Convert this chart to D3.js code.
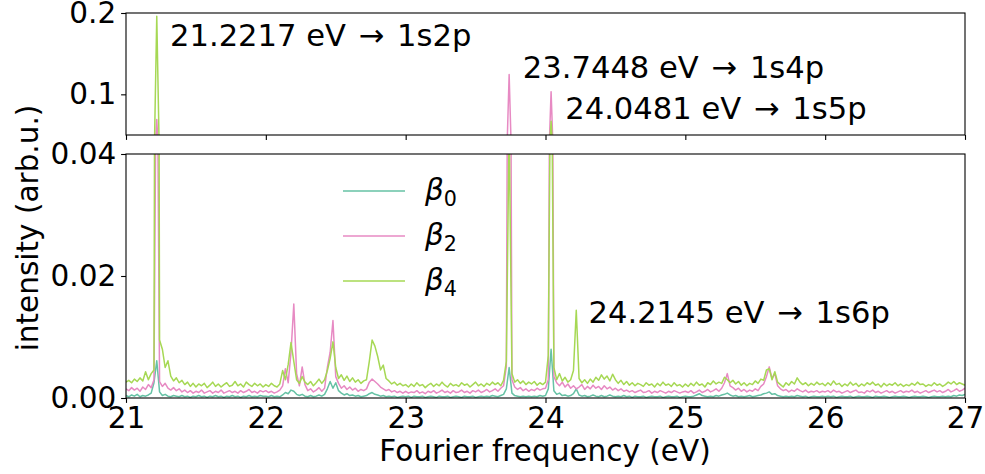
<!DOCTYPE html>
<html>
<head>
<meta charset="utf-8">
<script src="https://cdn.jsdelivr.net/npm/d3@7"></script>
<style>
  html, body { margin: 0; padding: 0; background: #fff; }
  svg { display: block; }
  text { font-family: "DejaVu Sans", sans-serif; fill: #000; }
</style>
</head>
<body>
<svg id="chart" width="985" height="474"></svg>
<script>
// ---- data (intensity in units of 1e-3 arb.u., sampled every 0.02 eV from 21.00 to 27.00 eV) ----
const freqStart = 21.0;
const freqStep = 0.02;

const beta0 = [
  0.4,0.2,0.5,0.3,0.6,0.2,0.4,0.3,0.5,0.8,
  2.5,6.1,1.0,0.4,0.6,0.3,0.2,0.4,0.3,0.2,
  0.4,0.2,0.3,0.1,0.3,0.2,0.4,0.2,0.3,0.1,
  0.3,0.2,0.4,0.2,0.3,0.1,0.3,0.2,0.4,0.2,
  0.3,0.1,0.3,0.2,0.4,0.2,0.3,0.2,0.4,0.3,
  0.3,0.2,0.4,0.2,0.3,0.2,0.5,0.9,0.7,1.3,
  1.1,0.6,0.4,0.6,0.3,0.2,0.4,0.2,0.3,0.5,
  0.3,0.6,1.5,2.7,1.6,2.5,1.2,0.8,0.5,0.7,
  0.4,0.5,0.3,0.4,0.2,0.3,0.4,0.7,0.9,0.6,
  0.5,0.3,0.4,0.2,0.3,0.2,0.3,0.1,0.2,0.3,
  0.2,0.3,0.1,0.3,0.2,0.2,0.3,0.1,0.2,0.3,
  0.2,0.1,0.3,0.2,0.2,0.3,0.1,0.2,0.3,0.2,
  0.1,0.3,0.2,0.2,0.3,0.1,0.2,0.3,0.2,0.3,
  0.2,0.4,0.3,0.2,0.4,0.6,1.5,5.0,0.8,0.4,
  0.3,0.2,0.3,0.2,0.3,0.2,0.3,0.2,0.4,0.3,
  0.4,1.5,8.0,1.2,0.6,0.8,0.4,0.5,0.3,0.4,
  0.7,1.5,0.5,0.3,0.4,0.2,0.3,0.5,0.3,0.2,
  0.4,0.2,0.3,0.5,0.3,0.2,0.3,0.2,0.4,0.2,
  0.3,0.1,0.3,0.2,0.2,0.3,0.1,0.2,0.3,0.2,
  0.2,0.3,0.1,0.2,0.3,0.2,0.2,0.3,0.1,0.2,
  0.3,0.2,0.2,0.3,0.5,0.7,0.4,0.3,0.2,0.3,
  0.2,0.4,0.3,0.5,0.6,0.8,0.5,0.3,0.4,0.2,
  0.3,0.2,0.3,0.4,0.2,0.3,0.4,0.5,0.7,0.8,
  1.0,0.6,0.7,0.4,0.3,0.2,0.3,0.2,0.3,0.2,
  0.4,0.3,0.2,0.3,0.1,0.2,0.3,0.2,0.2,0.3,
  0.2,0.3,0.2,0.3,0.1,0.2,0.3,0.2,0.2,0.3,
  0.1,0.2,0.3,0.2,0.2,0.3,0.2,0.1,0.3,0.2,
  0.2,0.3,0.2,0.1,0.2,0.3,0.2,0.2,0.3,0.2,
  0.1,0.2,0.3,0.2,0.2,0.3,0.2,0.1,0.2,0.3,
  0.2,0.2,0.3,0.2,0.3,0.2,0.4,0.3,0.5,0.4,
  0.6
];

const beta2 = [
  1.5,1.2,1.7,1.3,1.6,1.1,1.8,1.4,2.2,1.7,
  3.0,69,2.7,1.9,2.4,1.6,1.3,1.7,1.2,1.5,
  1.0,1.3,0.9,1.2,0.8,1.1,0.9,1.3,0.8,1.0,
  1.2,0.8,1.1,0.9,1.3,0.8,1.0,1.2,0.9,1.1,
  0.8,1.2,0.9,1.1,1.4,0.9,1.1,0.8,1.2,1.0,
  1.2,0.9,1.1,0.8,1.0,1.3,2.0,4.8,2.5,7.5,
  15.4,4.0,2.0,5.1,2.2,1.2,1.5,1.0,1.3,1.7,
  1.1,1.6,5.0,7.5,12.7,3.5,2.4,1.6,2.0,1.4,
  1.8,1.3,1.6,1.1,1.4,1.2,1.5,2.6,3.1,2.7,
  2.3,1.8,1.5,1.2,1.4,1.0,1.2,0.9,1.1,0.8,
  1.1,0.8,1.0,0.9,1.2,0.8,1.0,0.7,1.1,0.9,
  1.2,0.8,1.0,1.3,0.9,1.1,0.8,1.2,0.9,1.0,
  1.3,0.9,1.1,0.8,1.2,1.0,1.3,0.9,1.1,1.4,
  1.0,1.2,1.5,1.1,1.6,2.0,5.2,124.5,3.0,1.8,
  1.4,1.7,1.2,1.5,1.1,1.4,1.2,1.6,1.3,1.5,
  1.6,3.0,103.3,3.5,2.5,2.0,2.6,1.8,2.3,1.6,
  2.0,1.5,1.8,2.2,1.4,1.9,1.5,2.1,1.6,1.9,
  1.4,2.0,1.5,1.8,1.3,1.6,1.2,1.5,1.1,1.3,
  1.0,1.2,0.9,1.1,1.3,0.9,1.0,1.2,0.8,1.1,
  0.9,1.2,1.0,0.8,1.1,0.9,1.2,1.0,0.8,1.0,
  1.1,0.9,1.2,0.8,1.0,1.3,0.9,1.1,1.4,1.0,
  1.2,1.5,1.1,1.6,2.5,4.0,2.0,1.7,1.3,1.6,
  1.1,1.4,1.0,1.3,1.1,1.5,1.2,1.9,2.3,3.5,
  5.1,3.2,4.0,2.0,1.5,1.2,1.4,1.0,1.3,1.1,
  1.5,1.2,1.0,1.3,0.9,1.1,1.0,1.2,0.9,1.1,
  1.0,1.2,0.9,1.3,1.0,1.1,0.8,1.0,1.2,0.9,
  1.1,1.3,0.9,1.0,0.8,1.2,1.0,1.3,0.9,1.1,
  0.8,1.0,1.2,0.9,1.1,0.8,1.0,1.2,0.9,1.1,
  1.0,1.3,0.9,1.1,0.8,1.0,1.2,0.9,1.1,1.3,
  1.0,1.2,0.9,1.1,1.4,1.0,1.2,1.5,1.1,1.3,
  1.6
];

const beta4 = [
  2.6,2.9,2.5,3.1,2.7,3.3,2.8,4.3,3.0,4.0,
  4.6,196,9.5,8.0,5.0,6.1,3.6,2.8,3.3,2.5,
  2.9,2.2,2.6,1.9,2.4,1.8,2.3,2.0,2.4,1.7,
  2.1,2.6,1.9,2.3,1.8,2.2,2.5,1.9,2.1,2.7,
  2.0,2.3,1.8,2.6,2.2,1.9,2.4,2.0,2.3,1.8,
  2.2,1.9,2.4,2.0,1.8,2.3,4.5,3.0,5.5,9.1,
  6.0,3.0,2.4,3.5,2.6,2.2,2.7,2.0,2.5,3.1,
  2.4,3.0,4.5,6.5,9.2,5.0,3.2,3.8,2.9,3.6,
  2.7,3.3,2.6,3.0,2.4,2.8,3.0,6.0,9.5,8.5,
  6.8,4.6,5.4,3.2,2.8,2.3,2.6,2.1,2.4,2.0,
  2.2,1.8,2.3,1.9,2.5,2.0,2.2,1.7,2.1,2.4,
  1.9,2.3,2.0,2.6,2.1,1.8,2.4,2.0,2.2,1.9,
  2.5,2.1,2.3,1.8,2.2,2.6,2.0,2.3,1.9,2.4,
  2.1,2.6,2.2,2.5,2.0,2.9,6.0,45,4.0,2.6,
  3.0,2.4,2.8,2.2,2.6,2.3,2.7,2.1,2.5,2.2,
  2.6,7.0,67,5.0,3.0,4.0,2.8,3.4,2.6,3.0,
  4.5,14.4,3.2,2.5,3.0,2.4,3.1,2.6,3.4,2.9,
  3.8,3.1,3.6,2.8,3.9,3.0,2.4,2.9,2.2,2.7,
  2.1,2.5,2.0,2.4,2.2,1.9,2.5,2.1,2.3,1.8,
  2.4,2.0,2.6,2.1,2.3,1.9,2.5,2.0,2.2,1.8,
  2.3,1.9,2.4,2.0,2.6,2.1,2.3,1.8,2.5,2.2,
  2.8,2.3,2.6,2.4,3.4,3.0,2.5,2.9,2.3,2.7,
  2.1,2.5,2.0,2.4,2.2,2.8,2.4,3.1,2.9,4.6,
  4.8,3.0,4.3,2.6,2.2,1.8,2.5,2.1,2.7,2.3,
  3.3,2.6,2.2,2.5,2.0,2.4,2.1,2.6,2.2,2.4,
  2.0,2.5,2.1,2.8,2.2,2.4,1.9,2.3,2.0,2.6,
  2.1,2.4,1.9,2.3,2.0,2.5,2.2,2.6,2.1,2.3,
  1.8,2.4,2.0,2.3,2.1,2.5,2.0,2.3,1.9,2.2,
  2.0,2.4,2.1,2.6,2.2,2.3,1.9,2.2,2.0,2.5,
  2.1,2.3,1.9,2.2,2.6,2.3,2.7,2.2,2.5,2.3,
  2.1
];
const valueUnit = 1e-3;

const seriesNames = ["β0", "β2", "β4"];
const seriesLabels = [["β", "0"], ["β", "2"], ["β", "4"]];
const seriesColors = ["#66c2a5", "#e78ac3", "#a6d854"];

const xTicks = [21, 22, 23, 24, 25, 26, 27];
const yTopTicks = [0.1, 0.2];
const yTopTickLabels = ["0.1", "0.2"];
const yBotTicks = [0.00, 0.02, 0.04];
const yBotTickLabels = ["0.00", "0.02", "0.04"];

// annotation anchor (energy of the line, and text baseline in data units of its panel)
const annotFreqs = [21.2217, 23.7448, 24.0481, 24.2145];
const annotStates = ["1s2p", "1s4p", "1s5p", "1s6p"];
const annotPanels = ["top", "top", "top", "bot"];
const annotValues = [0.1594, 0.1197, 0.0697, 0.01225];

// ---- layout ----
const svg = d3.select("#chart");
const L = 126, R = 965;
const topY0 = 13, topY1 = 135;
const botY0 = 154, botY1 = 398;

const x = d3.scaleLinear().domain([21, 27]).range([L, R]);
const yTop = d3.scaleLinear().domain([0.05, 0.2]).range([topY1, topY0]);
const yBot = d3.scaleLinear().domain([0, 0.04]).range([botY1, botY0]);

const series = [beta0, beta2, beta4].map((arr, k) => ({
  name: seriesNames[k],
  color: seriesColors[k],
  points: arr.map((v, i) => ({ f: freqStart + i * freqStep, v: v * valueUnit }))
}));

const defs = svg.append("defs");
defs.append("clipPath").attr("id", "clipTop").append("rect")
  .attr("x", L).attr("y", topY0).attr("width", R - L).attr("height", topY1 - topY0);
defs.append("clipPath").attr("id", "clipBot").append("rect")
  .attr("x", L).attr("y", botY0).attr("width", R - L).attr("height", botY1 - botY0);

function drawPanel(yScale, clipId) {
  const g = svg.append("g").attr("clip-path", `url(#${clipId})`);
  const line = d3.line().x(d => x(d.f)).y(d => yScale(d.v));
  series.forEach(s => {
    g.append("path").datum(s.points)
      .attr("d", line)
      .attr("fill", "none")
      .attr("stroke", s.color)
      .attr("stroke-width", 1.5)
      .attr("stroke-linejoin", "round");
  });
}
drawPanel(yTop, "clipTop");
drawPanel(yBot, "clipBot");

// frames
function frame(y0, y1) {
  svg.append("rect").attr("x", L).attr("y", y0).attr("width", R - L).attr("height", y1 - y0)
    .attr("fill", "none").attr("stroke", "#000").attr("stroke-width", 1.1);
}
frame(topY0, topY1);
frame(botY0, botY1);

const fs = 29.5;

// axes
const axTopX = svg.append("g").attr("transform", `translate(0,${topY1})`)
  .call(d3.axisBottom(x).tickValues(xTicks).tickSize(4.9).tickFormat(""));
const axBotX = svg.append("g").attr("transform", `translate(0,${botY1})`)
  .call(d3.axisBottom(x).tickValues(xTicks).tickSize(4.9).tickPadding(4.5).tickFormat(d3.format("d")));
const axTopY = svg.append("g").attr("transform", `translate(${L},0)`)
  .call(d3.axisLeft(yTop).tickValues(yTopTicks).tickSize(4.9).tickPadding(4.9)
    .tickFormat((d, i) => yTopTickLabels[i]));
const axBotY = svg.append("g").attr("transform", `translate(${L},0)`)
  .call(d3.axisLeft(yBot).tickValues(yBotTicks).tickSize(4.9).tickPadding(4.9)
    .tickFormat((d, i) => yBotTickLabels[i]));

[axTopX, axBotX, axTopY, axBotY].forEach(a => {
  a.select(".domain").remove();
  a.selectAll(".tick line").attr("stroke", "#000").attr("stroke-width", 1.1);
  a.selectAll(".tick text").attr("font-family", "DejaVu Sans").attr("font-size", fs).attr("fill", "#000");
});

// axis labels
svg.append("text").attr("x", 545).attr("y", 461)
  .attr("text-anchor", "middle").attr("font-size", fs)
  .text("Fourier frequency (eV)");
svg.append("text")
  .attr("transform", `translate(38,228) rotate(-90)`)
  .attr("text-anchor", "middle").attr("font-size", fs)
  .text("intensity (arb.u.)");

// annotations
const afs = 30.6;
annotFreqs.forEach((f, k) => {
  const ys = annotPanels[k] === "top" ? yTop : yBot;
  const t = svg.append("text")
    .attr("x", x(f) + 13)
    .attr("y", ys(annotValues[k]))
    .attr("font-size", afs);
  t.append("tspan").text(`${f.toFixed(4)} eV `);
  t.append("tspan").attr("dx", 3).text("→");
  t.append("tspan").attr("dx", 3).text(` ${annotStates[k]}`);
});

// legend
const legX0 = 343, legX1 = 405, legY0 = 191, legDy = 45;
series.forEach((s, k) => {
  const cy = legY0 + k * legDy;
  svg.append("line").attr("x1", legX0).attr("x2", legX1).attr("y1", cy).attr("y2", cy)
    .attr("stroke", s.color).attr("stroke-width", 1.5);
  const t = svg.append("text").attr("x", 425).attr("y", cy + 9).attr("font-size", fs);
  t.append("tspan").attr("font-style", "italic").text(seriesLabels[k][0]);
  t.append("tspan").attr("font-size", fs * 0.7).attr("dy", 6).text(seriesLabels[k][1]);
});
</script>
</body>
</html>
